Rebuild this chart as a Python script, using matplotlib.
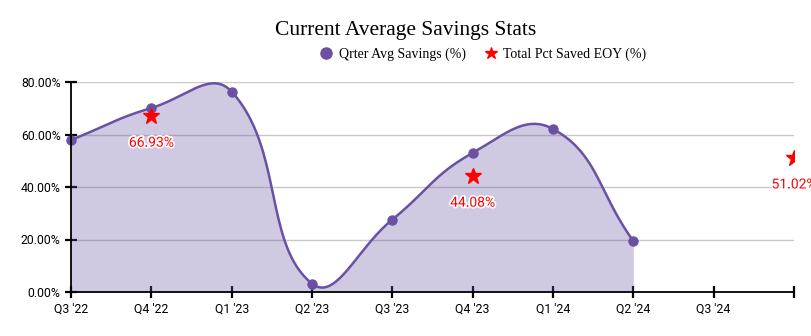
import numpy as np
import matplotlib.pyplot as plt
import matplotlib.patheffects as pe
from matplotlib.patches import Rectangle
from matplotlib.ticker import FuncFormatter

# quarters on the x axis (the last one carries no label in the original)
quarters = ["Q3 '22", "Q4 '22", "Q1 '23", "Q2 '23", "Q3 '23",
            "Q4 '23", "Q1 '24", "Q2 '24", "Q3 '24", "Q4 '24"]
tick_labels = ["Q3 '22", "Q4 '22", "Q1 '23", "Q2 '23", "Q3 '23",
               "Q4 '23", "Q1 '24", "Q2 '24", "Q3 '24", ""]

# quarterly average savings (%), one per quarter up to Q2 '24
avg_savings = [57.9, 70.1, 76.3, 3.2, 27.6, 53.0, 62.1, 19.4]

# end-of-year totals (%)
eoy_quarters = ["Q4 '22", "Q4 '23", "Q4 '24"]
eoy_values = [66.93, 44.08, 51.02]

PURPLE = "#6a51a3"
RED = "#ff0000"


def smooth_curve(x, y, sx, sy, tension=0.45, steps=40):
    # cardinal-style bezier through the points, computed in pixel-like units
    px = np.asarray(x, float) * sx
    py = np.asarray(y, float) * sy
    n = len(px)
    cps = []
    for i in range(n):
        p0 = (px[max(i - 1, 0)], py[max(i - 1, 0)])
        p1 = (px[i], py[i])
        p2 = (px[min(i + 1, n - 1)], py[min(i + 1, n - 1)])
        d01 = np.hypot(p1[0] - p0[0], p1[1] - p0[1])
        d12 = np.hypot(p2[0] - p1[0], p2[1] - p1[1])
        tot = d01 + d12 if d01 + d12 else 1
        fa = tension * d01 / tot
        fb = tension * d12 / tot
        prev_cp = (p1[0] - fa * (p2[0] - p0[0]), p1[1] - fa * (p2[1] - p0[1]))
        next_cp = (p1[0] + fb * (p2[0] - p0[0]), p1[1] + fb * (p2[1] - p0[1]))
        cps.append((prev_cp, next_cp))
    xs, ys = [], []
    t = np.linspace(0, 1, steps)
    for i in range(n - 1):
        a = np.array([px[i], py[i]])
        b = np.array(cps[i][1])
        c = np.array(cps[i + 1][0])
        d = np.array([px[i + 1], py[i + 1]])
        pts = ((1 - t)[:, None] ** 3 * a + 3 * ((1 - t) ** 2 * t)[:, None] * b
               + 3 * ((1 - t) * t ** 2)[:, None] * c + (t ** 3)[:, None] * d)
        xs.extend(pts[:, 0])
        ys.extend(pts[:, 1])
    return np.array(xs) / sx, np.array(ys) / sy


fig = plt.figure(figsize=(8.11, 3.36), dpi=100)
ax = fig.add_axes([71 / 811, 1 - 292 / 336, 723 / 811, 210 / 336])

xi = np.arange(len(avg_savings))
cx, cy = smooth_curve(xi, avg_savings, 80.3, 2.625)

ax.fill_between(cx, cy, 0, color=PURPLE, alpha=0.31, linewidth=0, zorder=2, clip_on=False)
ax.plot(cx, cy, color=PURPLE, linewidth=1.8, zorder=3, clip_on=False)
ax.plot(xi, avg_savings, "o", color=PURPLE, markersize=6.5, zorder=4, clip_on=False,
        label="Qrter Avg Savings (%)")

ex = [quarters.index(q) for q in eoy_quarters]
stars, = ax.plot(ex, eoy_values, "*", color=RED, markersize=12, linestyle="none", zorder=5,
                 label="Total Pct Saved EOY (%)")
# the original cuts the last star at the right edge of the plot area
clip_rect = Rectangle((-0.5, -0.5), 1.5, 2, transform=ax.transAxes, visible=False)
ax.add_patch(clip_rect)
stars.set_clip_path(clip_rect)
for x, v in zip(ex, eoy_values):
    ax.annotate(f"{v:.2f}%", (x, v), xytext=(0, -19), textcoords="offset points",
                ha="center", va="center", color=RED, fontsize=10, family="Roboto",
                annotation_clip=False, zorder=6,
                path_effects=[pe.withStroke(linewidth=2.5, foreground="white")])

ax.set_xlim(0, len(quarters) - 1)
ax.set_ylim(0, 80)
ax.set_xticks(range(len(quarters)))
ax.set_xticklabels(tick_labels)
ax.set_yticks([0, 20, 40, 60, 80])
ax.yaxis.set_major_formatter(FuncFormatter(lambda v, p: f"{v:.2f}%"))

ax.grid(axis="y", color="#c8c8c8", linewidth=1, zorder=1)
ax.set_axisbelow(True)
for s in ["top", "right"]:
    ax.spines[s].set_visible(False)
for s in ["left", "bottom"]:
    ax.spines[s].set_linewidth(1.3)
    ax.spines[s].set_zorder(7)
ax.tick_params(direction="inout", length=9, width=1.6, labelsize=8.8, pad=3)
for lab in ax.get_xticklabels() + ax.get_yticklabels():
    lab.set_family("Roboto")

fig.text(0.5, 1 - 31 / 336, "Current Average Savings Stats", ha="center", va="center",
         family="Liberation Serif", fontsize=15.5)
leg = fig.legend(loc="center", bbox_to_anchor=(482 / 811, 1 - 54 / 336), ncol=2, frameon=False,
                 prop={"family": "Liberation Serif", "size": 10}, handletextpad=0.3,
                 columnspacing=1.2, handlelength=1.2)
leg.legend_handles[0].set_markersize(8)
leg.legend_handles[1].set_markersize(9)

fig.savefig("out.png", dpi=100)
